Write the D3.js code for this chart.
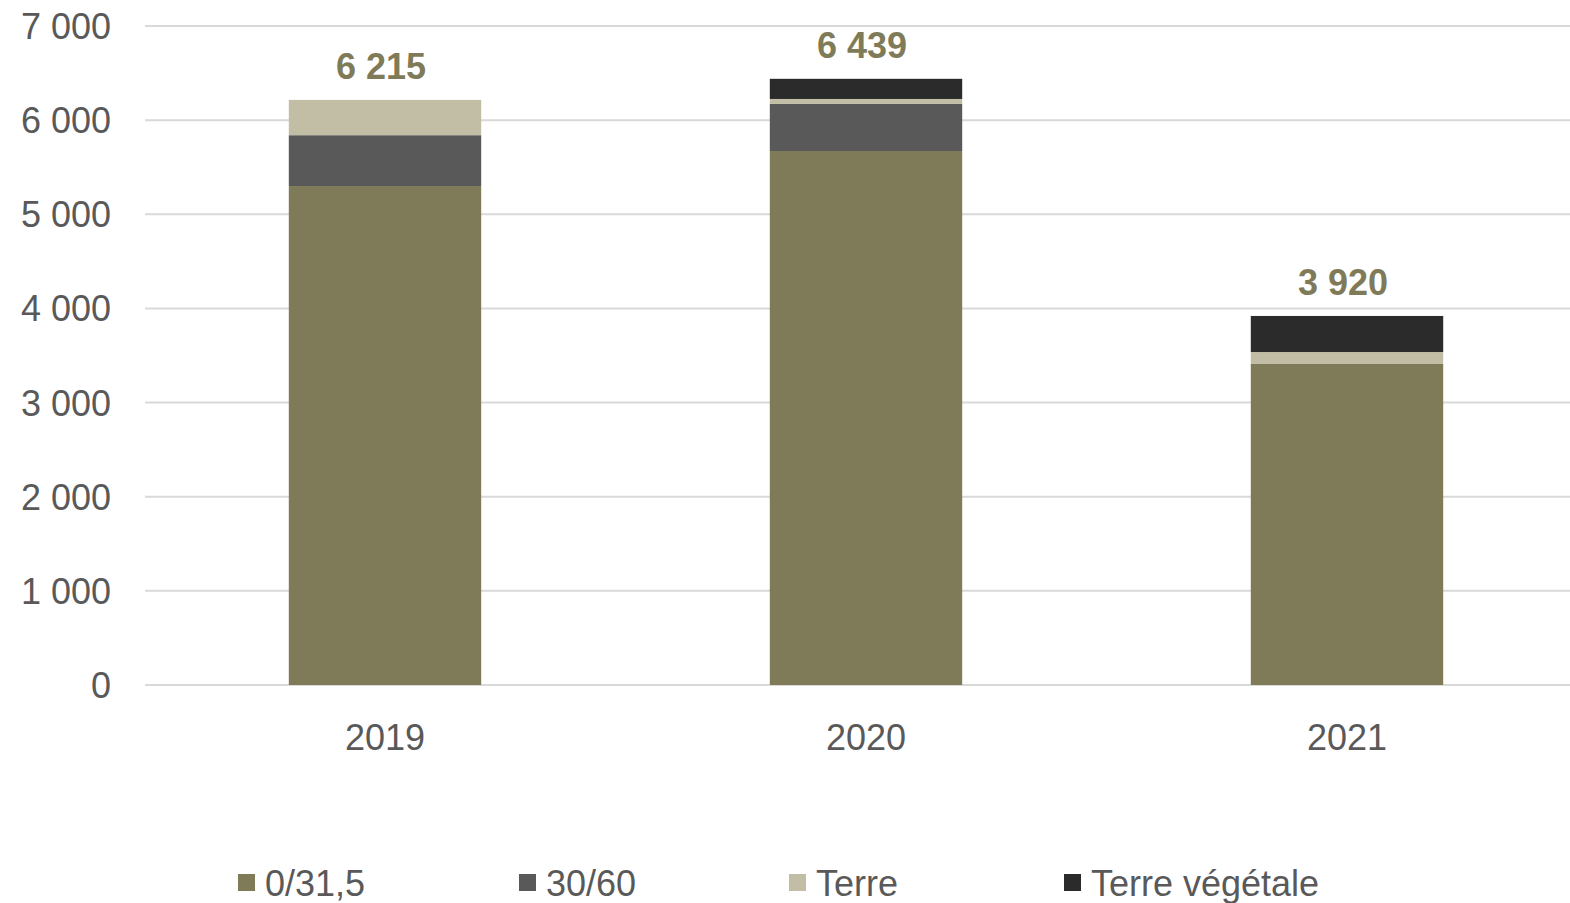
<!DOCTYPE html>
<html>
  <head>
    <meta charset="utf-8">
    <title>Volumes par année</title>
    <script src="https://d3js.org/d3.v7.min.js"></script>
    <style>
      body { margin: 0; background: #fff; }
      text { font-family: "Liberation Sans", Arial, sans-serif; }
    </style>
  </head>
  <body>
    <svg id="canvas" width="1570" height="903"></svg>
    <script>
      // data
      var years = ["2019", "2020", "2021"];
      var seriesNames = ["0/31,5", "30/60", "Terre", "Terre végétale"];
      var v0315 = [5300, 5672, 3410];
      var v3060 = [540, 500, 0];
      var vTerre = [375, 53, 127];
      var vTerreVeg = [0, 214, 383];
      var totals = [6215, 6439, 3920];
      var yTicks = [0, 1000, 2000, 3000, 4000, 5000, 6000, 7000];
      var colors = ["#7f7b58", "#595959", "#c2bea6", "#2b2b2b"];

      var rows = years.map(function(y, i){
        return {year: y, "0/31,5": v0315[i], "30/60": v3060[i], "Terre": vTerre[i], "Terre végétale": vTerreVeg[i], total: totals[i]};
      });

      var svg = d3.select("#canvas");
      var plotLeft = 144.5, plotRight = 1587.5, plotTop = 26, plotBottom = 685;

      var x = d3.scaleBand().domain(years).range([plotLeft, plotRight]).paddingInner(0.6).paddingOuter(0.3);
      var y = d3.scaleLinear().domain([0, 7000]).range([plotBottom, plotTop]);

      var fmt = function(d){ return d3.format(",")(d).replace(/,/g, " "); };

      // grid
      svg.append("g").selectAll("line")
        .data(yTicks)
        .enter()
        .append("line")
        .attr("x1", 145).attr("x2", 1570)
        .attr("y1", function(d){ return y(d); })
        .attr("y2", function(d){ return y(d); })
        .style("stroke", "#d9d9d9")
        .style("stroke-width", 2);

      // y labels
      svg.append("g").selectAll("text")
        .data(yTicks)
        .enter()
        .append("text")
        .attr("x", 111)
        .attr("y", function(d){ return y(d) + 13; })
        .attr("text-anchor", "end")
        .style("font-size", "36px")
        .style("fill", "#595959")
        .text(fmt);

      var stack = d3.stack().keys(seriesNames)(rows);

      svg.append("g").selectAll("g")
        .data(stack)
        .enter()
        .append("g")
        .style("fill", function(d, i){ return colors[i]; })
        .selectAll("rect")
        .data(function(d){ return d; })
        .enter()
        .append("rect")
        .attr("x", function(d){ return x(d.data.year); })
        .attr("width", x.bandwidth())
        .attr("y", function(d){ return y(d[1]); })
        .attr("height", function(d){ return y(d[0]) - y(d[1]); });

      // x labels
      svg.append("g").selectAll("text")
        .data(years)
        .enter()
        .append("text")
        .attr("x", function(d){ return x(d) + x.bandwidth() / 2; })
        .attr("y", 750)
        .attr("text-anchor", "middle")
        .style("font-size", "36px")
        .style("fill", "#595959")
        .text(function(d){ return d; });

      // totals
      svg.append("g").selectAll("text")
        .data(rows)
        .enter()
        .append("text")
        .attr("x", function(d){ return x(d.year) + x.bandwidth() / 2 - 4; })
        .attr("y", function(d){ return y(d.total) - 21; })
        .attr("text-anchor", "middle")
        .style("font-size", "36px")
        .style("font-weight", "bold")
        .style("fill", "#7f7b58")
        .text(function(d){ return fmt(d.total); });

      // legend
      var legendX = [238, 519, 789, 1064];
      var leg = svg.append("g").selectAll("g")
        .data(seriesNames)
        .enter()
        .append("g")
        .attr("transform", function(d, i){ return "translate(" + legendX[i] + ",0)"; });
      leg.append("rect")
        .attr("x", 0).attr("y", 874)
        .attr("width", 17).attr("height", 17)
        .style("fill", function(d, i){ return colors[i]; });
      leg.append("text")
        .attr("x", 27).attr("y", 896)
        .style("font-size", "36px")
        .style("fill", "#595959")
        .text(function(d){ return d; });
    </script>
  </body>
</html>
